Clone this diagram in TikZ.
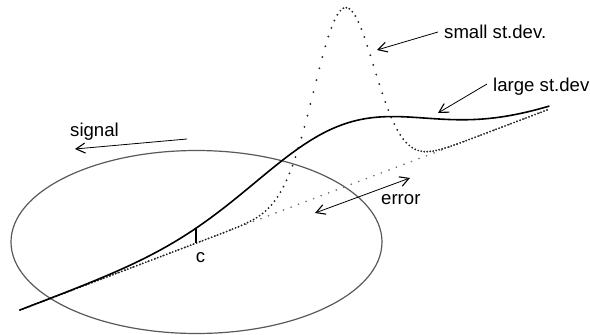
\documentclass[tikz,border=0pt]{standalone}
\usepackage{fontspec}
\setmainfont{Liberation Sans}
\usetikzlibrary{arrows.meta}
\tikzset{
  lbl/.style={inner sep=0pt, font=\fontsize{18.6}{21}\selectfont},
  arr/.style={-{Straight Barb[length=9pt,width=10pt,line width=1.1pt]}, line width=0.8pt},
  darr/.style={{Straight Barb[length=9pt,width=10pt,line width=1.1pt]}-{Straight Barb[length=9pt,width=10pt,line width=1.1pt]}, line width=0.8pt},
  bigcurve/.style={line width=1.6pt, line cap=round},
  ell/.style={line width=1.2pt, draw=black!65},
  tick/.style={line width=1.4pt},
  declare function={
    yb(\x)=243.2-0.3795*(\x-196);
    bigc(\x)=yb(\x)-63*exp(-min(((\x-340)/85)^2/2,20));
    smallc(\x)=yb(\x)-179*exp(-min(((\x-344)/30)^2/2,20));
  }
}
\begin{document}
\begin{tikzpicture}[x=1pt,y=-1pt]
\useasboundingbox (0,0) rectangle (590,335);
% ellipse
\draw[ell] (196.5,242) ellipse [x radius=185.5pt, y radius=91.5pt];
% sparse base line
\fill[black!55] plot[only marks, mark=*, mark size=0.6pt, domain=20:547, samples=71] (\x,{yb(\x)});
% small st.dev curve
\fill[black!85] plot[only marks, mark=*, mark size=0.7pt, domain=20:547, samples=177] (\x,{smallc(\x)});
% large st.dev curve
\draw[bigcurve] plot[smooth, domain=20:549, samples=120] (\x,{bigc(\x)});
% c tick
\coordinate (ctop) at (196,{bigc(196)});
\coordinate (cbot) at (196,{yb(196)});
\draw[tick] (ctop) -- (cbot);
\node[lbl, anchor=north] (c) at (200.5,252) {c};
% labels
\node[lbl, anchor=base west] (small) at (444,38) {small st.dev.};
\node[lbl, anchor=base west] (large) at (493,91) {large st.dev};
\node[lbl, anchor=base west] (signal) at (70,136) {signal};
\node[lbl, anchor=base west] (error) at (381,204) {error};
% arrows
\coordinate (s1) at (438,32);
\coordinate (s2) at (377,50);
\coordinate (l1) at (487,84);
\coordinate (l2) at (438,113);
\coordinate (g1) at (187,139);
\coordinate (g2) at (75,149);
\coordinate (e1) at (315,213);
\coordinate (e2) at (410,178);
\draw[arr] (s1) -- (s2);
\draw[arr] (l1) -- (l2);
\draw[arr] (g1) -- (g2);
\draw[darr] (e1) -- (e2);
\end{tikzpicture}
\end{document}
